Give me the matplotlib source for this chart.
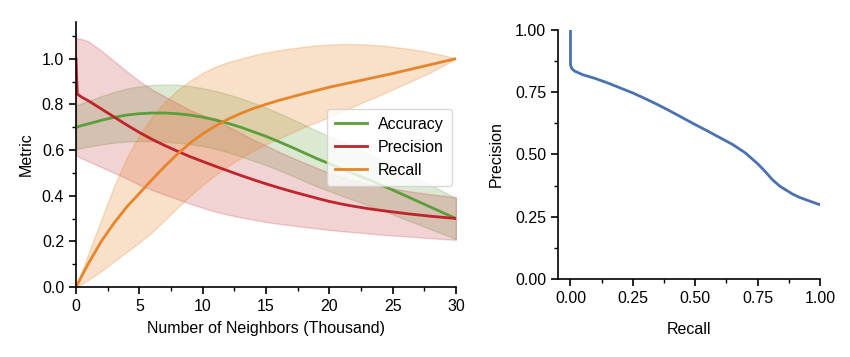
import matplotlib
matplotlib.use("Agg")
import matplotlib.pyplot as plt
from matplotlib.ticker import MultipleLocator

plt.rcParams['font.family'] = ['Liberation Sans', 'DejaVu Sans']
plt.rcParams['font.size'] = 11.5

# ---------------- data (left panel) ----------------
neighbors = [0, 0.1, 0.5, 1, 2, 3, 4, 5, 6, 7, 8, 9, 10, 11, 12, 13, 14, 15,
             16, 17, 18, 19, 20, 21, 22, 23, 24, 25, 26, 27, 28, 29, 30]

accuracy = [0.70, 0.701, 0.708, 0.715, 0.73, 0.743, 0.753, 0.759, 0.762, 0.762,
            0.759, 0.753, 0.744, 0.732, 0.717, 0.70, 0.68, 0.66, 0.637, 0.613,
            0.588, 0.563, 0.54, 0.517, 0.495, 0.472, 0.449, 0.425, 0.40, 0.375,
            0.35, 0.325, 0.30]
accuracy_err = [0.095, 0.096, 0.098, 0.10, 0.106, 0.111, 0.116, 0.12, 0.123, 0.125,
                0.127, 0.127, 0.127, 0.127, 0.127, 0.127, 0.127, 0.126, 0.125, 0.124,
                0.123, 0.122, 0.12, 0.118, 0.116, 0.113, 0.11, 0.107, 0.104, 0.10,
                0.097, 0.093, 0.09]

precision = [1.0, 0.845, 0.83, 0.815, 0.78, 0.745, 0.71, 0.677, 0.647, 0.62,
             0.595, 0.571, 0.55, 0.529, 0.509, 0.489, 0.47, 0.452, 0.435, 0.419,
             0.404, 0.389, 0.375, 0.363, 0.353, 0.344, 0.336, 0.329, 0.322, 0.316,
             0.31, 0.305, 0.30]
precision_low = [0.575, 0.574, 0.562, 0.55, 0.525, 0.50, 0.475, 0.448, 0.425, 0.405,
                 0.385, 0.365, 0.347, 0.33, 0.317, 0.305, 0.295, 0.285, 0.277, 0.27,
                 0.263, 0.257, 0.25, 0.245, 0.24, 0.235, 0.23, 0.226, 0.222, 0.218,
                 0.214, 0.21, 0.207]
precision_high = [1.09, 1.09, 1.085, 1.075, 1.035, 0.99, 0.945, 0.902, 0.865, 0.835,
                  0.805, 0.775, 0.753, 0.73, 0.703, 0.675, 0.645, 0.62, 0.593, 0.568,
                  0.545, 0.522, 0.50, 0.481, 0.466, 0.453, 0.442, 0.432, 0.422, 0.414,
                  0.406, 0.40, 0.393]

recall = [0.0, 0.011, 0.053, 0.105, 0.20, 0.28, 0.35, 0.41, 0.47, 0.528,
          0.582, 0.63, 0.671, 0.705, 0.735, 0.76, 0.782, 0.80, 0.817, 0.832,
          0.847, 0.861, 0.875, 0.887, 0.899, 0.911, 0.923, 0.935, 0.948, 0.961,
          0.974, 0.987, 1.0]
recall_low = [0.0, 0.003, 0.015, 0.032, 0.07, 0.112, 0.153, 0.195, 0.24, 0.293,
              0.347, 0.398, 0.447, 0.49, 0.53, 0.565, 0.597, 0.625, 0.65, 0.675,
              0.70, 0.722, 0.745, 0.77, 0.793, 0.817, 0.84, 0.865, 0.89, 0.915,
              0.94, 0.97, 1.0]
recall_high = [0.0, 0.015, 0.075, 0.15, 0.295, 0.44, 0.565, 0.665, 0.745, 0.81,
               0.862, 0.903, 0.938, 0.965, 0.985, 1.0, 1.015, 1.027, 1.037, 1.045,
               1.052, 1.058, 1.062, 1.064, 1.064, 1.062, 1.058, 1.052, 1.045, 1.037,
               1.027, 1.015, 1.0]

# ---------------- data (right panel) ----------------
pr_recall = [0.0, 0.0, 0.005, 0.016, 0.05, 0.1, 0.15, 0.2, 0.25, 0.3, 0.35, 0.4,
             0.45, 0.5, 0.55, 0.6, 0.65, 0.7, 0.75, 0.78, 0.81, 0.84, 0.866,
             0.89, 0.92, 0.95, 1.0]
pr_precision = [1.0, 0.86, 0.845, 0.835, 0.82, 0.805, 0.787, 0.767, 0.747, 0.724,
                0.7, 0.674, 0.647, 0.62, 0.594, 0.567, 0.54, 0.507, 0.463, 0.432,
                0.398, 0.372, 0.356, 0.341, 0.327, 0.316, 0.298]

C_ACC = '#5b9e3a'
C_PRE = '#c1232b'
C_REC = '#e8842a'
C_PR = '#4a72b0'

fig = plt.figure(figsize=(8.5, 3.57), dpi=100)
ax1 = fig.add_axes([0.0894, 0.196, 0.447, 0.742])
ax2 = fig.add_axes([0.6565, 0.2185, 0.3082, 0.6975])

acc_lo = [a - e for a, e in zip(accuracy, accuracy_err)]
acc_hi = [a + e for a, e in zip(accuracy, accuracy_err)]

ax1.fill_between(neighbors, acc_lo, acc_hi, color=C_ACC, alpha=0.22, lw=1)
ax1.fill_between(neighbors, precision_low, precision_high, color=C_PRE, alpha=0.2, lw=1)
ax1.fill_between(neighbors, recall_low, recall_high, color=C_REC, alpha=0.25, lw=1)
ax1.plot(neighbors, accuracy, color=C_ACC, lw=2, label='Accuracy')
ax1.plot(neighbors, precision, color=C_PRE, lw=2, label='Precision')
ax1.plot(neighbors, recall, color=C_REC, lw=2, label='Recall')

ax1.set_xlim(0, 30)
ax1.set_ylim(0, 1.16)
ax1.xaxis.set_major_locator(MultipleLocator(5))
ax1.xaxis.set_minor_locator(MultipleLocator(2.5))
ax1.yaxis.set_minor_locator(MultipleLocator(0.1))
ax1.set_yticks([0, 0.2, 0.4, 0.6, 0.8, 1.0])
ax1.set_xlabel('Number of Neighbors (Thousand)', labelpad=5)
ax1.set_ylabel('Metric', labelpad=6)
ax1.legend(loc='center right', bbox_to_anchor=(1.0, 0.528), frameon=True,
           fancybox=True, edgecolor='#d0d0d0', handlelength=2.0, handletextpad=0.7,
           borderpad=0.5, labelspacing=0.5, borderaxespad=0.25, fontsize=11.5)

ax2.plot(pr_recall, pr_precision, color=C_PR, lw=2)
ax2.set_xlim(-0.05, 1.0)
ax2.set_ylim(0, 1.0)
ax2.set_xticks([0, 0.25, 0.5, 0.75, 1.0])
ax2.set_yticks([0, 0.25, 0.5, 0.75, 1.0])
ax2.xaxis.set_minor_locator(MultipleLocator(0.125))
ax2.yaxis.set_minor_locator(MultipleLocator(0.125))
ax2.set_xlabel('Recall', labelpad=12)
ax2.set_ylabel('Precision', labelpad=8)

for ax in (ax1, ax2):
    ax.spines['top'].set_visible(False)
    ax.spines['right'].set_visible(False)
    for s in ('left', 'bottom'):
        ax.spines[s].set_linewidth(1.2)
    ax.tick_params(which='major', length=5, width=1.2, labelsize=11.5)
    ax.tick_params(which='minor', length=3, width=1.0)

fig.savefig('out.png', dpi=100)
